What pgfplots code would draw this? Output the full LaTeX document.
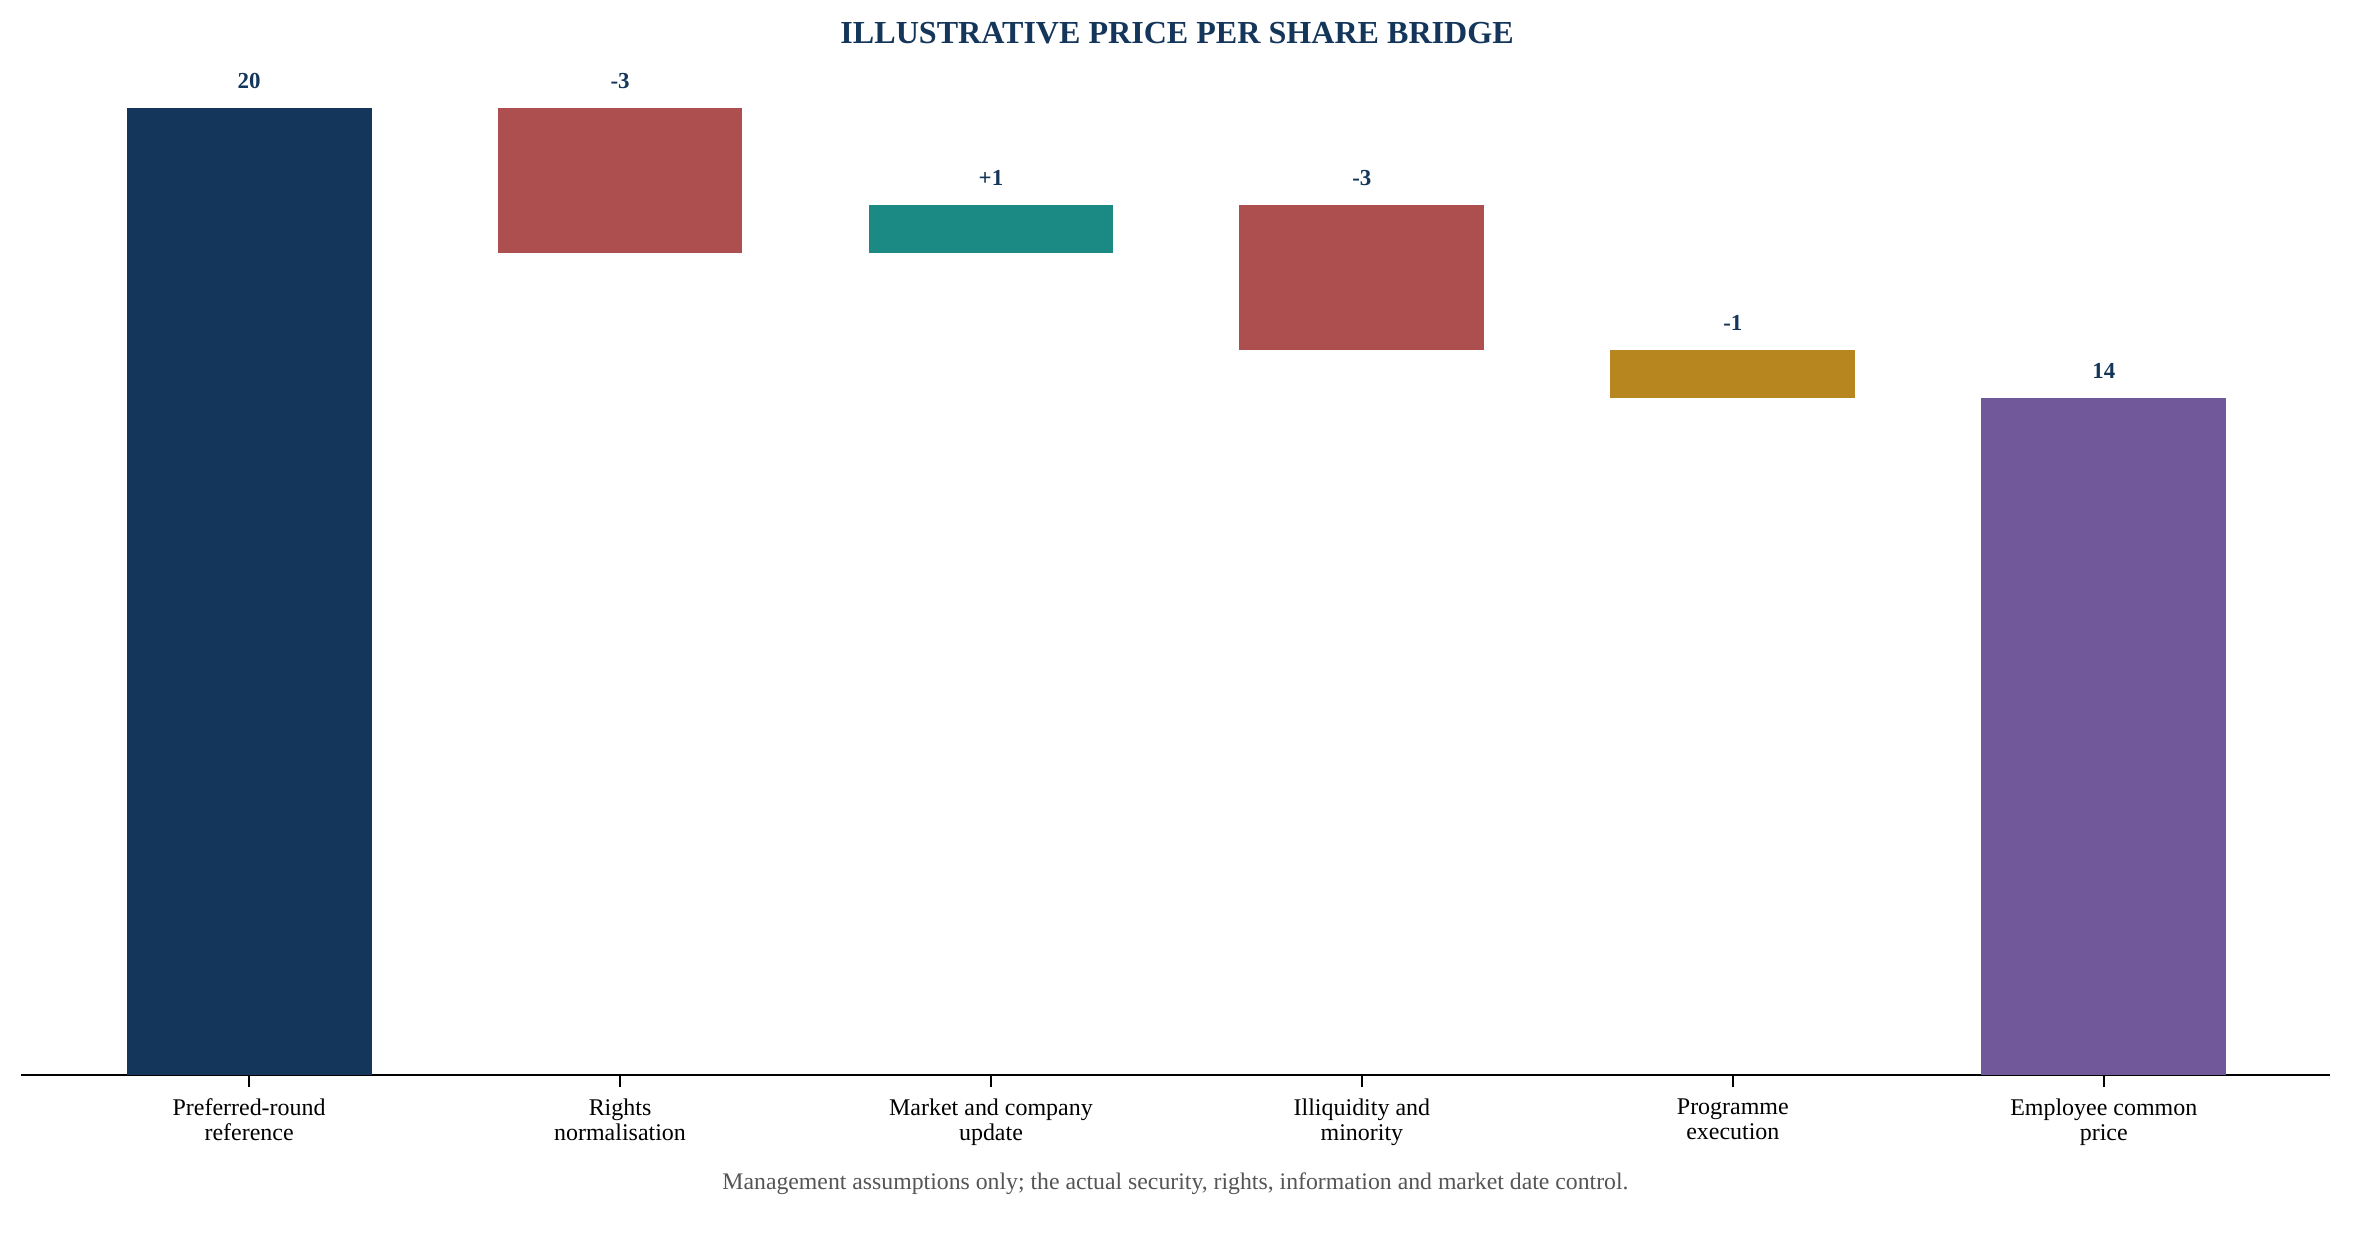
\documentclass[border=0pt]{standalone}
\usepackage{fontspec}
\setmainfont{Liberation Serif}
\usepackage{pgfplots}
\pgfplotsset{compat=1.18}
\definecolor{navy}{HTML}{14365A}
\definecolor{cred}{HTML}{AD4F4E}
\definecolor{cteal}{HTML}{1B8A84}
\definecolor{cgold}{HTML}{B8861F}
\definecolor{cpurple}{HTML}{70589A}
\definecolor{fgray}{HTML}{555555}
\begin{document}
\begin{tikzpicture}
\begin{axis}[
  at={(0,0)}, anchor=south west,
  scale only axis, width=1108.3pt, height=487.4pt,
  xmin=-0.615, xmax=5.61, ymin=0, ymax=21,
  axis x line=bottom, axis y line=none,
  x axis line style={-, line width=1pt, black},
  xtick={0,1,2,3,4,5},
  xticklabels={{Preferred-round\\reference},{Rights\\normalisation},{Market and company\\update},{Illiquidity and\\minority},{Programme\\execution},{Employee common\\price}},
  xticklabel style={align=center, font=\fontsize{11.5}{12}\selectfont, text=black, yshift=-2pt},
  xtick align=outside, major tick length=5.8pt,
  x tick style={black, line width=0.8pt},
  ytick=\empty,
  clip=false,
]
\addplot[fill=navy, draw=none] coordinates {(-0.33,0) (0.33,0) (0.33,20) (-0.33,20)};
\addplot[fill=cred, draw=none] coordinates {(0.67,17) (1.33,17) (1.33,20) (0.67,20)};
\addplot[fill=cteal, draw=none] coordinates {(1.67,17) (2.33,17) (2.33,18) (1.67,18)};
\addplot[fill=cred, draw=none] coordinates {(2.67,15) (3.33,15) (3.33,18) (2.67,18)};
\addplot[fill=cgold, draw=none] coordinates {(3.67,14) (4.33,14) (4.33,15) (3.67,15)};
\addplot[fill=cpurple, draw=none] coordinates {(4.67,0) (5.33,0) (5.33,14) (4.67,14)};
\addplot[draw=none, mark=none, nodes near coords, point meta=explicit symbolic,
  nodes near coords style={font=\bfseries\fontsize{11}{13}\selectfont, text=navy, anchor=center, yshift=13pt}]
  coordinates {(0,20) [20] (1,20) [-3] (2,18) [+1] (3,18) [-3] (4,15) [-1] (5,14) [14]};
\node[font=\bfseries\fontsize{15.4}{18}\selectfont, text=navy] at (rel axis cs:0.5007,1.026) {ILLUSTRATIVE PRICE PER SHARE BRIDGE};
\node[font=\fontsize{11.4}{13}\selectfont, text=fgray] at (rel axis cs:0.5,-0.107) {Management assumptions only; the actual security, rights, information and market date control.};
\end{axis}
\pgfresetboundingbox
\path[use as bounding box] (-10.08pt,-87.84pt) rectangle ++(1129.9pt,603.84pt);
\end{tikzpicture}
\end{document}
